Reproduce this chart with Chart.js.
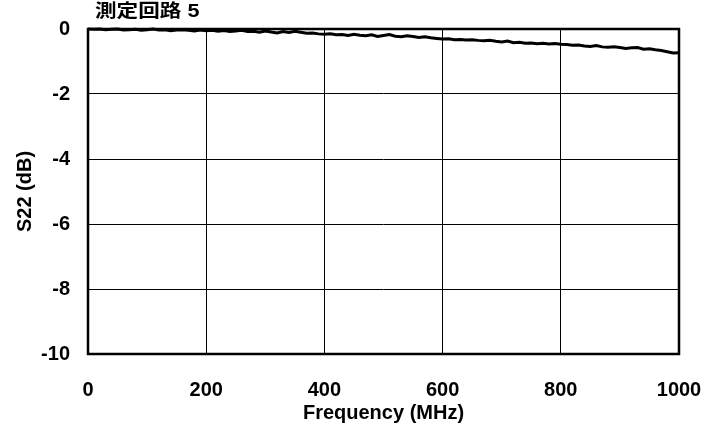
<!doctype html>
<html>
<head>
<meta charset="UTF-8">
<title>S22</title>
<script src="https://cdn.jsdelivr.net/npm/chart.js@4/dist/chart.umd.min.js"></script>
<style>
  html, body { margin: 0; padding: 0; background: #fff; }
</style>
</head>
<body>
<div style="width:713px;height:431px">
  <canvas id="canvas" width="713" height="431"></canvas>
</div>
<script>
// measured S22 of circuit 5, one point every 10 MHz
var freqMHz = [0,10,20,30,40,50,60,70,80,90,100,110,120,130,140,150,160,170,180,190,
  200,210,220,230,240,250,260,270,280,290,300,310,320,330,340,350,360,370,380,390,
  400,410,420,430,440,450,460,470,480,490,500,510,520,530,540,550,560,570,580,590,
  600,610,620,630,640,650,660,670,680,690,700,710,720,730,740,750,760,770,780,790,
  800,810,820,830,840,850,860,870,880,890,900,910,920,930,940,950,960,970,980,990,1000];
var s22dB = [0.00,-0.01,0.00,-0.02,-0.01,0.00,-0.03,-0.02,-0.01,-0.04,
  -0.02,0.00,-0.03,-0.02,-0.05,-0.03,-0.02,-0.04,-0.06,-0.03,
  -0.05,-0.04,-0.07,-0.05,-0.08,-0.06,-0.04,-0.08,-0.07,-0.10,
  -0.06,-0.09,-0.12,-0.08,-0.11,-0.07,-0.10,-0.13,-0.12,-0.15,
  -0.16,-0.15,-0.18,-0.17,-0.20,-0.16,-0.19,-0.21,-0.18,-0.23,
  -0.20,-0.17,-0.22,-0.24,-0.21,-0.23,-0.26,-0.24,-0.27,-0.29,
  -0.31,-0.30,-0.33,-0.32,-0.34,-0.33,-0.35,-0.36,-0.35,-0.38,
  -0.40,-0.37,-0.42,-0.41,-0.44,-0.43,-0.45,-0.44,-0.46,-0.45,
  -0.47,-0.48,-0.50,-0.49,-0.52,-0.54,-0.51,-0.55,-0.56,-0.55,
  -0.57,-0.60,-0.58,-0.57,-0.62,-0.61,-0.64,-0.66,-0.70,-0.74,-0.73];
var xTicks = [0,200,400,600,800,1000];
var yTicks = [0,-2,-4,-6,-8,-10];
var chartTitle = "測定回路 5";

var FONT = "'Liberation Sans', Arial, 'Noto Sans CJK JP', sans-serif";
var labelFont = { family: FONT, size: 20, weight: "bold" };

// thick frame around the plot area plus the caption above it
var framePlugin = {
  id: "frame",
  beforeDatasetsDraw: function(chart) {
    var a = chart.chartArea, ctx = chart.ctx;
    ctx.save();
    ctx.strokeStyle = "#000";
    ctx.lineWidth = 2.5;
    ctx.strokeRect(a.left, a.top, a.right - a.left, a.bottom - a.top);
    ctx.restore();
  },
  afterDraw: function(chart) {
    var a = chart.chartArea, ctx = chart.ctx;
    ctx.save();
    ctx.fillStyle = "#000";
    ctx.font = "bold 18px " + FONT;
    ctx.textBaseline = "middle";
    // the caption is set in a wide face: stretch it horizontally
    ctx.translate(a.left + 7, a.top - 17);
    ctx.scale(1.2, 1);
    ctx.fillText(chartTitle, 0, 0);
    ctx.restore();
  }
};

var points = freqMHz.map(function(f, i) { return {x: f, y: s22dB[i]}; });

new Chart(document.getElementById("canvas").getContext("2d"), {
  type: "line",
  data: {
    datasets: [{
      data: points,
      borderColor: "#000",
      borderWidth: 3,
      pointRadius: 0,
      tension: 0,
      clip: false
    }]
  },
  options: {
    responsive: false,
    animation: false,
    layout: { padding: { left: 0, right: 34, top: 29, bottom: 0 } },
    plugins: { legend: { display: false }, tooltip: { enabled: false } },
    scales: {
      x: {
        type: "linear",
        min: 0, max: 1000,
        afterBuildTicks: function(s) { s.ticks = xTicks.map(function(v) { return {value: v}; }); },
        afterFit: function(s) { s.height = 77; s.paddingLeft = 0; s.paddingRight = 0; },
        grid: { color: "#000", lineWidth: 1, drawTicks: false },
        border: { display: false },
        ticks: { color: "#000", font: labelFont, padding: 24, maxRotation: 0,
                 callback: function(v) { return String(v); } },
        title: { display: true, text: "Frequency (MHz)", color: "#000",
                 font: labelFont, padding: { top: 0, bottom: 6 } }
      },
      y: {
        min: -10, max: 0,
        afterBuildTicks: function(s) { s.ticks = yTicks.map(function(v) { return {value: v}; }); },
        afterFit: function(s) { s.width = 88; s.paddingTop = 0; s.paddingBottom = 0; },
        grid: { color: "#000", lineWidth: 1, drawTicks: false },
        border: { display: false },
        ticks: { color: "#000", font: labelFont, padding: 18,
                 callback: function(v) { return String(v); } },
        title: { display: true, text: "S22 (dB)", color: "#000",
                 font: labelFont, padding: { top: 13, bottom: 0 } }
      }
    }
  },
  plugins: [framePlugin]
});
</script>
</body>
</html>
